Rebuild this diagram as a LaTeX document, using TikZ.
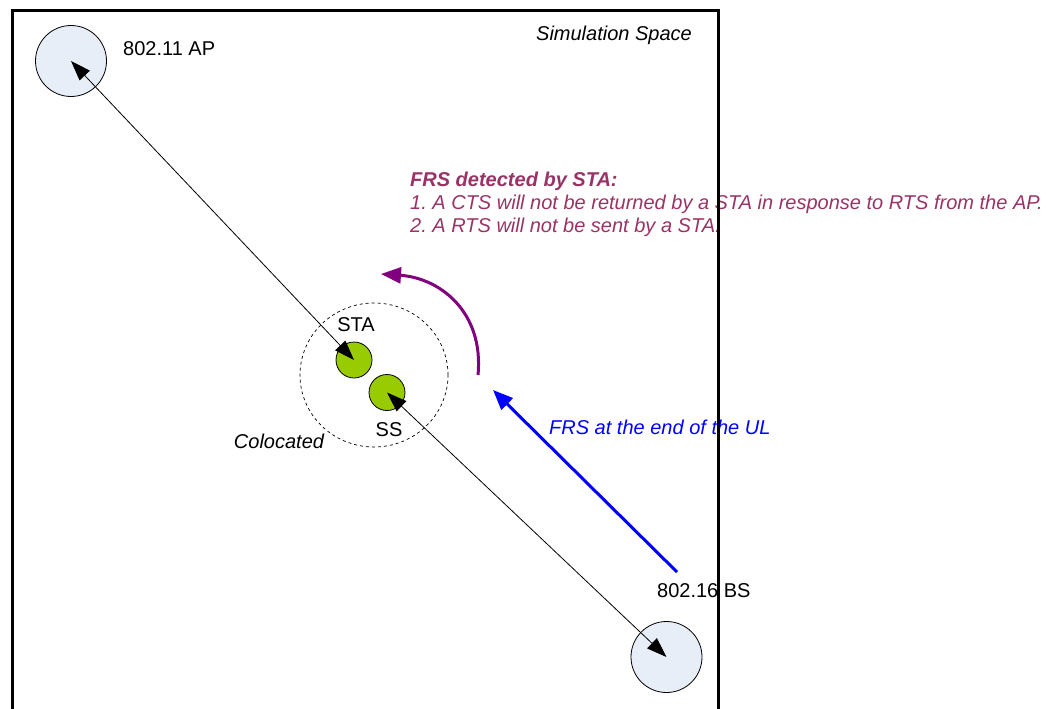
\documentclass[tikz,border=0pt]{standalone}
\usepackage{fontspec}
\setmainfont{Liberation Sans}
\frenchspacing
\usetikzlibrary{arrows.meta,shapes.geometric}
\definecolor{cfill}{HTML}{E8EEF8}
\definecolor{sgreen}{HTML}{99CC00}
\definecolor{arcpurple}{HTML}{800080}
\definecolor{txtpurple}{HTML}{993366}
\tikzset{
  bigdev/.style={circle,draw=black,line width=0.8pt,fill=cfill,minimum size=71pt,inner sep=0pt},
  smalldev/.style={circle,draw=black,line width=0.8pt,fill=sgreen,minimum size=36pt,inner sep=0pt},
  lbl/.style={font=\fontsize{20}{24}\selectfont,inner sep=0pt},
  ilbl/.style={lbl,font=\fontsize{20}{24}\selectfont\itshape},
  link/.style={line width=0.8pt,{Triangle[length=20pt,width=14pt]}-{Triangle[length=20pt,width=14pt]}},
}
\begin{document}
\begin{tikzpicture}[x=1pt,y=-1pt]
\useasboundingbox (0,0) rectangle (1047,709);
\clip (0,0) rectangle (1047,709);
% devices
\node[bigdev] (ap) at (71,61) {};
\node[bigdev] (bs) at (666.5,657) {};
\node[draw,dashed,ellipse,line width=0.7pt,minimum width=148pt,minimum height=144pt,inner sep=0pt] (col) at (374,375) {};
\node[smalldev] (sta) at (354,360) {};
\node[smalldev] (ss) at (387,392.5) {};
% links
\draw[link] (ap.center) -- (sta.center);
\draw[link] (ss.center) -- (bs.center);
% labels
\node[lbl,anchor=base west] (aplbl) at (123,56) {802.11 AP};
\node[lbl,anchor=base west] (bslbl) at (657,597) {802.16 BS};
\node[lbl,anchor=base] (stalbl) at (356,331) {STA};
\node[lbl,anchor=base] (sslbl) at (389,436) {SS};
\node[ilbl,anchor=base] (collbl) at (279,448) {Colocated};
\node[ilbl,anchor=base east] (simlbl) at (692,41) {Simulation Space};
% purple arc
\coordinate (arcs) at (478,375);
\coordinate (arce) at (381,274);
\draw[arcpurple,line width=3pt,-{Triangle[length=20pt,width=16pt]}] (arcs) .. controls (484,312) and (440,278) .. (arce);
% blue arrow
\coordinate (bls) at (677,572);
\coordinate (ble) at (493,390);
\draw[blue,line width=3pt,-{Triangle[length=20pt,width=16pt]}] (bls) -- (ble);
\node[ilbl,text=blue,anchor=base west] (ullbl) at (549,434) {FRS at the end of the UL};
% purple text
\node[lbl,text=txtpurple,font=\fontsize{20}{24}\selectfont\bfseries\itshape,anchor=base west] (t1) at (410,186) {FRS detected by STA:};
\node[ilbl,text=txtpurple,anchor=base west] (t2) at (410,209) {1. A CTS will not be returned by a STA in response to RTS from the AP.};
\node[ilbl,text=txtpurple,anchor=base west] (t3) at (410,232) {2. A RTS will not be sent by a STA.};
% frame
\draw[line width=3pt] (12,720) -- (12,11) -- (718,11) -- (718,720);
\end{tikzpicture}
\end{document}
